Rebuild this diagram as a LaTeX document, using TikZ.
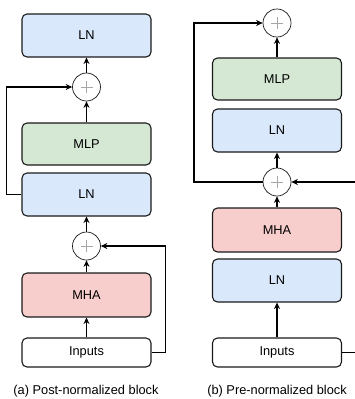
\documentclass[tikz,border=0pt]{standalone}
\usepackage{fontspec}
\setmainfont{Liberation Sans}
\usetikzlibrary{arrows.meta}
\definecolor{lnblue}{HTML}{DAE8FC}
\definecolor{mlpgreen}{HTML}{D5E8D4}
\definecolor{mhared}{HTML}{F8CECC}
\definecolor{edge}{HTML}{1A1A1A}
\tikzset{
  blk/.style={draw=edge, line width=1.1pt, rounded corners=5pt, minimum width=129pt,
    inner sep=0pt, font=\fontsize{12.8}{14}\selectfont, text=black},
  lnbox/.style={blk, fill=lnblue, minimum height=43pt},
  mlpbox/.style={blk, fill=mlpgreen, minimum height=42pt},
  mhabox/.style={blk, fill=mhared, minimum height=44pt},
  inbox/.style={blk, fill=white, minimum height=29pt},
  addop/.style={draw=edge, line width=0.7pt, circle, minimum size=28pt, inner sep=0pt, fill=white,
    path picture={\draw[gray!70, line width=0.6pt]
      ([xshift=-6pt]path picture bounding box.center) -- ([xshift=6pt]path picture bounding box.center)
      ([yshift=-6pt]path picture bounding box.center) -- ([yshift=6pt]path picture bounding box.center);}},
  wire/.style={draw=black, line width=1.1pt},
  arr/.style={wire, -{Stealth[length=6.5pt,width=6pt]}},
  caption/.style={font=\fontsize{12.8}{14}\selectfont, text=black}
}
\begin{document}
\begin{tikzpicture}[x=1pt, y=-1pt]
\useasboundingbox (0,0) rectangle (355,399);

% (a) post-normalized block
\node[lnbox]  (aln1) at (86.5,35.5) {LN};
\node[addop]  (aadd1) at (86.5,87) {};
\node[mlpbox] (amlp) at (86.5,144) {MLP};
\node[lnbox]  (aln2) at (86.5,194.5) {LN};
\node[addop]  (aadd2) at (86.5,246) {};
\node[mhabox] (amha) at (86.5,295) {MHA};
\node[inbox]  (ain) at (86.5,352.5) {Inputs};
\node[caption] (acap) at (86,391) {(a) Post-normalized block};

\draw[arr] (aadd1) -- (aln1);
\draw[arr] (amlp) -- (aadd1);
\draw[arr] (aln2.west) -- ++(-15,0) |- (aadd1.west);
\draw[arr] (aadd2) -- (aln2);
\draw[arr] (amha) -- (aadd2);
\draw[arr] (ain) -- (amha);
\draw[arr] (ain.east) -- ++(14,0) |- (aadd2.east);

% (b) pre-normalized block
\node[addop]  (badd1) at (277,23) {};
\node[mlpbox] (bmlp) at (277,79) {MLP};
\node[lnbox]  (bln1) at (277,130.5) {LN};
\node[addop]  (badd2) at (277,182) {};
\node[mhabox] (bmha) at (277,230) {MHA};
\node[lnbox]  (bln2) at (277,280.5) {LN};
\node[inbox]  (bin) at (277,352.5) {Inputs};
\node[caption] (bcap) at (277,391) {(b) Pre-normalized block};

\coordinate (bskipin) at (360,182);
\coordinate (bskipout) at (360,352.5);
\coordinate (bbend) at (194,182);

\draw[arr] (bmlp) -- (badd1);
\draw[arr] (badd2) -- (bln1);
\draw[arr] (badd2.west) -- (bbend) |- (badd1.west);
\draw[arr] (bskipin) -- (badd2.east);
\draw[arr] (bmha) -- (badd2);
\draw[arr] (bin) -- (bln2);
\draw[wire] (bin.east) -- (bskipout);
\end{tikzpicture}
\end{document}
